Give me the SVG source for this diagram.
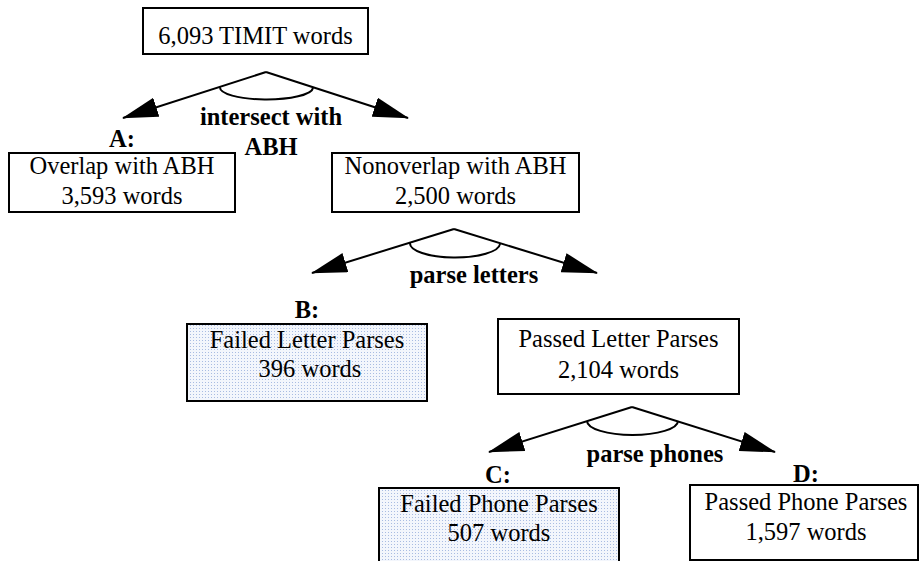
<svg xmlns="http://www.w3.org/2000/svg" width="919" height="561" viewBox="0 0 919 561">
<style>
.box{fill:#ffffff;stroke:#000000;stroke-width:2}
.shaded{fill:url(#dots);stroke:#000000;stroke-width:2}
.t{font-family:"Liberation Serif","Times New Roman",serif;font-size:24.5px;fill:#000000;text-anchor:middle}
.b{font-family:"Liberation Serif","Times New Roman",serif;font-size:24.5px;font-weight:bold;fill:#000000;text-anchor:middle}
.edge{fill:none;stroke:#000000;stroke-width:2}
</style>
<defs>
<pattern id="dots" width="3" height="3" patternUnits="userSpaceOnUse">
<rect width="3" height="3" fill="#f3f6fc"/>
<rect x="1" y="1" width="1" height="1" fill="#a9bce2"/>
</pattern>
<marker id="ah" viewBox="0 0 36 20" refX="35" refY="10" markerWidth="36" markerHeight="20" markerUnits="userSpaceOnUse" orient="auto">
<path d="M0,0 L36,10 L0,20 z" fill="#000000"/>
</marker>
</defs>
<g id="connectors">
<path class="edge" d="M266,72 L123,118" marker-end="url(#ah)"/>
<path class="edge" d="M266,72 L408,118" marker-end="url(#ah)"/>
<path class="edge" d="M220,87 A46.5,12 0 0 0 313,88"/>
<path class="edge" d="M454,229 L312,273" marker-end="url(#ah)"/>
<path class="edge" d="M454,229 L597,273" marker-end="url(#ah)"/>
<path class="edge" d="M410,243 A45,14 0 0 0 500,244"/>
<path class="edge" d="M632,407 L489,452" marker-end="url(#ah)"/>
<path class="edge" d="M632,407 L775,452" marker-end="url(#ah)"/>
<path class="edge" d="M587,421 A45.5,14 0 0 0 678,421"/>
<text class="b" x="271" y="125">intersect with</text>
<text class="b" x="271" y="155">ABH</text>
<text class="b" x="474" y="283">parse letters</text>
<text class="b" x="655" y="462">parse phones</text>
</g>
<g id="root">
<rect class="box" x="143" y="8" width="225" height="46"/>
<text class="t" x="255.5" y="44">6,093 TIMIT words</text>
</g>
<g id="nodeA">
<text class="b" x="122" y="147">A:</text>
<rect class="box" x="9" y="153" width="226" height="59"/>
<text class="t" x="122" y="174">Overlap with ABH</text>
<text class="t" x="122" y="204">3,593 words</text>
</g>
<g id="nonoverlap">
<rect class="box" x="332" y="153" width="247" height="59"/>
<text class="t" x="455.5" y="174">Nonoverlap with ABH</text>
<text class="t" x="455.5" y="204">2,500 words</text>
</g>
<g id="nodeB">
<text class="b" x="307" y="318">B:</text>
<rect class="shaded" x="187" y="324" width="240" height="77"/>
<text class="t" x="307" y="348">Failed Letter Parses</text>
<text class="t" x="310" y="377">396 words</text>
</g>
<g id="passedLetter">
<rect class="box" x="498" y="319" width="241" height="75"/>
<text class="t" x="618.5" y="347">Passed Letter Parses</text>
<text class="t" x="618.5" y="378">2,104 words</text>
</g>
<g id="nodeC">
<text class="b" x="498" y="483">C:</text>
<rect class="shaded" x="379" y="488" width="240" height="80"/>
<text class="t" x="499" y="512">Failed Phone Parses</text>
<text class="t" x="499" y="541">507 words</text>
</g>
<g id="nodeD">
<text class="b" x="806" y="482">D:</text>
<rect class="box" x="690" y="485" width="228" height="75"/>
<text class="t" x="806" y="510">Passed Phone Parses</text>
<text class="t" x="806" y="540">1,597 words</text>
</g>
</svg>
